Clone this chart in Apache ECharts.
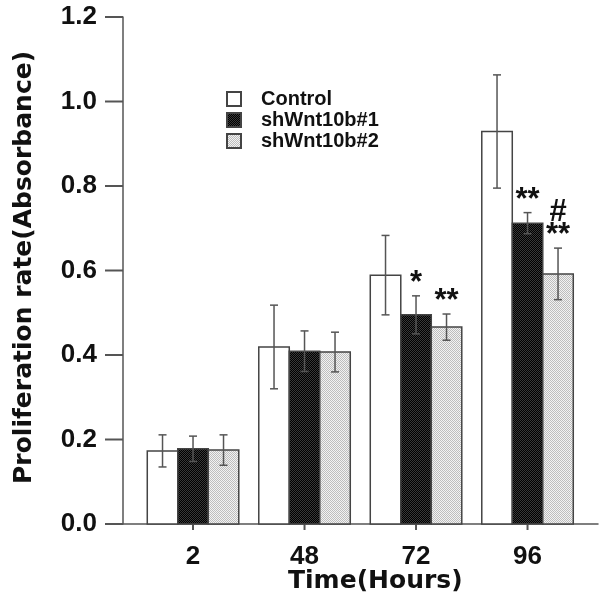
<!DOCTYPE html>
<html>
<head>
<meta charset="utf-8">
<script src="https://cdn.jsdelivr.net/npm/echarts@6/dist/echarts.min.js"></script>
<style>html,body{margin:0;padding:0;background:#fff}#c{width:600px;height:608px}</style>
</head>
<body>
<div id="c"></div>
<script>
// ---- data ----
const categories = ['2', '48', '72', '96'];
const seriesNames = ['Control', 'shWnt10b#1', 'shWnt10b#2'];
const controlVals = [0.173, 0.419, 0.589, 0.929];
const controlErr  = [0.038, 0.099, 0.094, 0.134];
const sh1Vals     = [0.178, 0.409, 0.495, 0.712];
const sh1Err      = [0.030, 0.048, 0.045, 0.025];
const sh2Vals     = [0.175, 0.407, 0.466, 0.592];
const sh2Err      = [0.036, 0.047, 0.031, 0.061];
const sh1Marks    = ['', '', '*', '**'];
const sh2Marks    = ['', '', '**', '#\n**'];
const xTickPos    = [0, 1, 2, 3];
const xTitle = 'Time(Hours)';
const yTitle = 'Proliferation rate(Absorbance)';

// ---- patterns ----
function makePattern(c1, c2) {
  const cv = document.createElement('canvas');
  cv.width = 2; cv.height = 2;
  const ctx = cv.getContext('2d');
  ctx.fillStyle = c1; ctx.fillRect(0, 0, 2, 2);
  ctx.fillStyle = c2; ctx.fillRect(0, 0, 1, 1); ctx.fillRect(1, 1, 1, 1);
  return { image: cv, repeat: 'repeat' };
}
const fills = ['#ffffff', makePattern('#000000', '#383838'), makePattern('#f2f2f2', '#bdbdbd')];
const BW = 30.5;
const AXC = '#555';
const FONT = '"Liberation Sans", Arial, sans-serif';
const numStyle = { fontFamily: FONT, fontWeight: 'bold', fontSize: 26, color: '#111' };

function makeSeries(k, vals, errs, marks) {
  return {
    name: seriesNames[k],
    type: 'custom',
    itemStyle: { color: fills[k], borderColor: '#444', borderWidth: 1.5 },
    data: categories.map((c, i) => [i, vals[i], errs[i]]),
    renderItem: function (params, api) {
      const i = params.dataIndex;
      const x = api.value(0), v = api.value(1), e = api.value(2);
      const base = api.coord([x, 0]);
      const top = api.coord([x, v]);
      const eTop = api.coord([x, v + e]);
      const eBot = api.coord([x, v - e]);
      const cx = base[0] + (k - 1) * BW;
      const children = [
        { type: 'rect', shape: { x: cx - BW / 2, y: top[1], width: BW, height: base[1] - top[1] },
          style: { fill: fills[k], stroke: '#444', lineWidth: 1.5 } },
        { type: 'line', shape: { x1: cx, y1: eTop[1], x2: cx, y2: eBot[1] }, style: { stroke: AXC, lineWidth: 1.5 } },
        { type: 'line', shape: { x1: cx - 4, y1: eTop[1], x2: cx + 4, y2: eTop[1] }, style: { stroke: AXC, lineWidth: 1.5 } },
        { type: 'line', shape: { x1: cx - 4, y1: eBot[1], x2: cx + 4, y2: eBot[1] }, style: { stroke: AXC, lineWidth: 1.5 } }
      ];
      if (marks && marks[i]) {
        children.push({
          type: 'text',
          style: { text: marks[i], x: cx, y: eTop[1] - 1, align: 'center', verticalAlign: 'bottom',
                   font: 'bold 31px ' + FONT, fill: '#111', lineHeight: 23 }
        });
      }
      return { type: 'group', children: children };
    },
    z: 2
  };
}

const chart = echarts.init(document.getElementById('c'));
chart.setOption({
  animation: false,
  backgroundColor: '#fff',
  grid: { left: 123, right: 2, top: 17, bottom: 84 },
  graphic: [
    { type: 'text', left: 288, top: 569,
      style: { text: xTitle, font: 'bold 25px "DejaVu Sans", sans-serif', fill: '#111' } },
    { type: 'text', rotation: Math.PI / 2, x: 12, y: 484, originX: 0, originY: 0,
      style: { text: yTitle, font: 'bold 25px "DejaVu Sans", sans-serif', fill: '#111', align: 'left', verticalAlign: 'top' } }
  ],
  legend: {
    orient: 'vertical', left: 221, top: 84,
    icon: 'rect',
    itemWidth: 14, itemHeight: 14, itemGap: 1,
    data: seriesNames,
    textStyle: { fontFamily: FONT, fontWeight: 'bold', fontSize: 20, color: '#111', padding: [0, 0, 0, 15] }
  },
  xAxis: {
    type: 'value', min: -0.628, max: 3.632,
    splitLine: { show: false },
    axisLine: { show: true, onZero: false, lineStyle: { color: AXC, width: 1.5 } },
    axisTick: { show: false },
    axisLabel: {
      customValues: xTickPos,
      formatter: v => '{t|}\n{v|' + categories[Math.round(v)] + '}',
      margin: 0,
      rich: {
        t: { width: 2, height: 6, lineHeight: 6, backgroundColor: AXC },
        v: Object.assign({ lineHeight: 54 }, numStyle)
      }
    }
  },
  yAxis: {
    type: 'value', min: 0, max: 1.2, interval: 0.2,
    splitLine: { show: false },
    axisLine: { show: true, onZero: false, lineStyle: { color: AXC, width: 1.5 } },
    axisTick: { show: false },
    axisLabel: {
      formatter: v => '{v|' + v.toFixed(1) + '}{g|}{t|}',
      margin: 0,
      rich: {
        v: numStyle,
        g: { width: 8 },
        t: { width: 18, height: 2, backgroundColor: AXC }
      }
    }
  },
  series: [
    makeSeries(0, controlVals, controlErr, null),
    makeSeries(1, sh1Vals, sh1Err, sh1Marks),
    makeSeries(2, sh2Vals, sh2Err, sh2Marks)
  ]
});
</script>
</body>
</html>
